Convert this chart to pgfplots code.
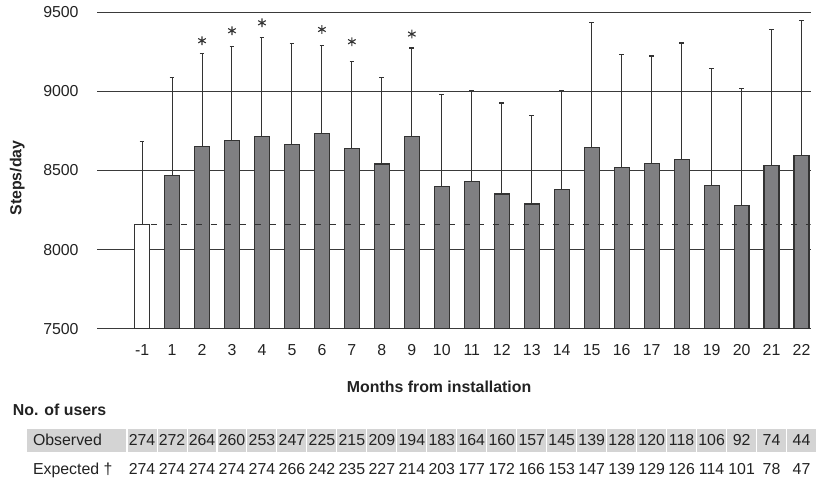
\documentclass[border=0pt]{standalone}
\usepackage{fontspec}
\setmainfont{Liberation Sans}
\usepackage{pgfplots}
\pgfplotsset{compat=1.18}
\definecolor{bargray}{HTML}{7F7F82}
\definecolor{edge}{HTML}{333333}
\definecolor{cellgray}{HTML}{D4D4D4}
\definecolor{gridc}{HTML}{3A3A3A}
\definecolor{txt}{HTML}{222222}
\begin{document}
\begin{tikzpicture}[font=\fontsize{8}{9.6}\selectfont, text=txt]
\begin{axis}[
  scale only axis, width=359.5pt, height=159.5pt,
  xmin=-1.5, xmax=22.3, ymin=7500, ymax=9500,
  clip mode=individual,
  axis line style={draw=none},
  major tick length=0pt,
  ytick={7500,8000,8500,9000,9500},
  xtick={0,1,2,3,4,5,6,7,8,9,10,11,12,13,14,15,16,17,18,19,20,21,22},
  xticklabels={-1,1,2,3,4,5,6,7,8,9,10,11,12,13,14,15,16,17,18,19,20,21,22},
  ymajorgrids, grid style={gridc, line width=0.6pt},
  /pgf/number format/assume math mode=true,
  /pgf/number format/1000 sep={},
  yticklabel style={xshift=-5.8pt, text=txt},
  xticklabel style={anchor=base, yshift=-13.5pt, text=txt},
]
% baseline month (-1)
\addplot[ybar, bar width=0.5, bar shift=0pt, fill=white, draw=edge, line width=0.6pt,
  error bars/.cd, y dir=plus, y explicit,
  error bar style={edge, line width=0.5pt},
  error mark options={rotate=90, mark size=1.2pt, edge, line width=0.6pt}]
  coordinates {(0,8158) +- (0,527)};
% months 1..22
\addplot[ybar, bar width=0.5, bar shift=0pt, fill=bargray, draw=edge, line width=0.6pt,
  error bars/.cd, y dir=plus, y explicit,
  error bar style={edge, line width=0.5pt},
  error mark options={rotate=90, mark size=1.2pt, edge, line width=0.6pt}]
  coordinates {
  (1,8470) +- (0,618)
  (2,8654) +- (0,585)
  (3,8689) +- (0,594)
  (4,8716) +- (0,623)
  (5,8666) +- (0,635)
  (6,8733) +- (0,556)
  (7,8639) +- (0,550)
  (8,8541) +- (0,547)
  (9,8714) +- (0,560)
  (10,8399) +- (0,583)
  (11,8432) +- (0,575)
  (12,8351) +- (0,576)
  (13,8288) +- (0,560)
  (14,8378) +- (0,629)
  (15,8643) +- (0,790)
  (16,8520) +- (0,712)
  (17,8545) +- (0,679)
  (18,8570) +- (0,736)
  (19,8407) +- (0,738)
  (20,8279) +- (0,740)
  (21,8534) +- (0,859)
  (22,8595) +- (0,855)
  };
% dashed baseline level
\addplot[edge, line width=0.5pt, dash pattern=on 3pt off 4.5pt] coordinates {(0.3,8158) (22.3,8158)};
% significance asterisks
\addplot[only marks, mark=asterisk, mark size=2.2pt, mark options={line width=0.55pt, edge}]
  coordinates {(2,9320) (3,9383) (4,9433) (6,9391) (7,9314) (9,9362)};

% table of users
\fill[cellgray] (axis cs:-3.846,6722.6) rectangle (axis cs:-0.54,6868.7);
\foreach \i/\o/\e in {0/274/274,1/272/274,2/264/274,3/260/274,4/253/274,5/247/266,6/225/242,7/215/235,8/209/227,9/194/214,10/183/203,11/164/177,12/160/172,13/157/166,14/145/153,15/139/147,16/128/139,17/120/129,18/118/126,19/106/114,20/92/101,21/74/78,22/44/47}{
  \pgfmathsetmacro\xa{\i-0.483}
  \pgfmathsetmacro\xb{\i+0.483}
  \edef\tmp{\noexpand\fill[cellgray] (axis cs:\xa,6722.6) rectangle (axis cs:\xb,6868.7);
    \noexpand\node[anchor=base] at (axis cs:\i,6764.6) {\o};
    \noexpand\node[anchor=base] at (axis cs:\i,6576.5) {\e};}
  \tmp
}
\node[anchor=base west, inner sep=0pt] at (axis cs:-3.65,6764.6) {Observed};
\node[anchor=base west, inner sep=0pt] at (axis cs:-3.65,6576.5) {Expected †};
\node[anchor=base west, inner sep=0pt, font=\fontsize{8}{9.6}\selectfont\bfseries] at (axis cs:-4.32,6952.7) {No. of users};
\node[anchor=base, inner sep=0pt, font=\fontsize{8}{9.6}\selectfont\bfseries] at (axis cs:9.91,7099) {Months from installation};
\node[rotate=90, inner sep=0pt, font=\fontsize{8}{9.6}\selectfont\bfseries] at (axis cs:-4.16,8453) {Steps/day};
\path (axis cs:-4.739,6559.6) rectangle (axis cs:22.3,9575.2);
\end{axis}
\end{tikzpicture}
\end{document}
